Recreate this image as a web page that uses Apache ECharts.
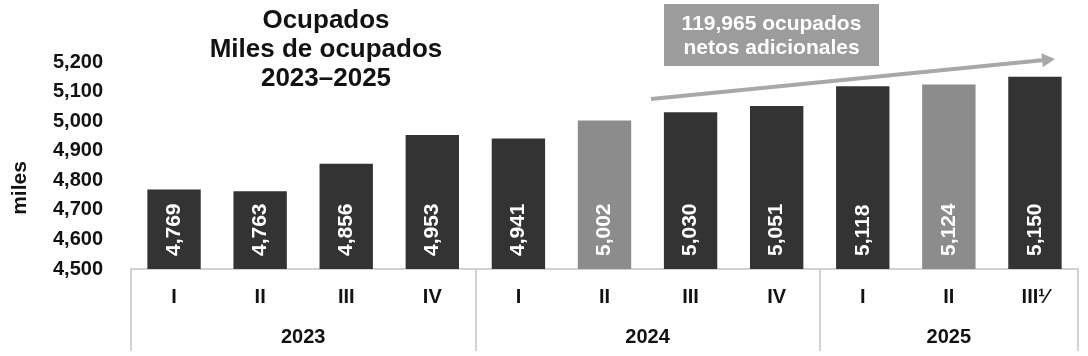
<!DOCTYPE html>
<html>
<head>
<meta charset="utf-8">
<script src="https://cdn.jsdelivr.net/npm/echarts@6/dist/echarts.min.js"></script>
<style>
html,body{margin:0;padding:0;background:#fff;}
#c{width:1088px;height:356px;}
</style>
</head>
<body>
<div id="c"></div>
<script>
// ---- data ----
var quarters = ["I","II","III","IV","I","II","III","IV","I","II","III\u00b9\u2044"];
var values = [4769,4763,4856,4953,4941,5002,5030,5051,5118,5124,5150];
var highlighted = [5, 9];
var years = ["2023","2024","2025"];
var quartersPerYear = [4,4,3];
var yMin = 4500, yMax = 5200, yStep = 100;
var titleText = "Ocupados\nMiles de ocupados\n2023\u20132025";
var noteText = "119,965 ocupados\nnetos adicionales";
var yName = "miles";

// ---- derived ----
var FONT = "'Liberation Sans', Arial, sans-serif";
var INK = "#121212";
var boundaries = [0], centers = [], acc = 0;
quartersPerYear.forEach(function(n){ centers.push(acc + n/2); acc += n; boundaries.push(acc); });
var nTotal = acc;

var barData = values.map(function(v, i){
  var hi = highlighted.indexOf(i) >= 0;
  return { value: v, itemStyle: { color: hi ? "#8c8c8c" : "#333333" } };
});

function fmt(v){ return Number(v).toLocaleString('en-US'); }

// arrow geometry (annotation)
var ax0 = 651, ay0 = 99, ax1 = 1055, ay1 = 59;
var dx = ax1-ax0, dy = ay1-ay0, L = Math.sqrt(dx*dx+dy*dy), ux = dx/L, uy = dy/L;
var hl = 13, hw = 7;
var bx = ax1 - ux*hl, by = ay1 - uy*hl;
var px = -uy, py = ux;

var chart = echarts.init(document.getElementById('c'), null, {renderer:'canvas'});
chart.setOption({
  animation: false,
  backgroundColor: '#ffffff',
  title: {
    text: titleText,
    left: 321, top: 1, textAlign: 'center',
    textStyle: { fontFamily: FONT, fontSize: 26, fontWeight: 'bold', color: INK, lineHeight: 29 }
  },
  grid: { left: 131, right: 10, top: 62, bottom: 87, containLabel: false },
  xAxis: [
    {
      type: 'category', data: quarters, position: 'bottom',
      axisLine: { show: true, lineStyle: { color: '#d2d2d2', width: 2 } },
      axisTick: { show: false },
      axisLabel: { fontFamily: FONT, fontSize: 20, fontWeight: 'bold', color: INK, margin: 18, interval: 0 }
    },
    {
      type: 'value', min: 0, max: nTotal, position: 'bottom',
      axisLine: { show: false },
      splitLine: { show: false },
      axisTick: { show: true, customValues: boundaries, length: 82, inside: false,
        lineStyle: { color: '#d2d2d2', width: 2 } },
      axisLabel: { show: true, customValues: centers, margin: 58,
        fontFamily: FONT, fontSize: 20, fontWeight: 'bold', color: INK,
        formatter: function(v){ var k = centers.indexOf(v); return k >= 0 ? years[k] : ''; } }
    }
  ],
  yAxis: {
    type: 'value', min: yMin, max: yMax, interval: yStep,
    axisLine: { show: false }, axisTick: { show: false }, splitLine: { show: false },
    axisLabel: { fontFamily: FONT, fontSize: 20, fontWeight: 'bold', color: INK, margin: 28, formatter: fmt }
  },
  series: [{
    type: 'bar', xAxisIndex: 0, data: barData, barWidth: '62%',
    label: {
      show: true, position: 'insideBottom', rotate: 90, align: 'left', verticalAlign: 'middle',
      distance: 13, fontFamily: FONT, fontSize: 21, fontWeight: 'bold', color: '#ffffff',
      formatter: function(p){ return fmt(p.value); }
    }
  }],
  graphic: [
    { type: 'text', x: 20, y: 188, rotation: Math.PI/2,
      style: { text: yName, fontFamily: FONT, fontSize: 21, fontWeight: 'bold', fill: INK,
        textAlign: 'center', textVerticalAlign: 'middle' } },
    { type: 'rect', shape: { x: 664, y: 4, width: 215, height: 62 }, style: { fill: '#9c9c9c' } },
    { type: 'text', x: 771.5, y: 36,
      style: { text: noteText, fontFamily: FONT, fontSize: 21, fontWeight: 'bold', fill: '#ffffff',
        textAlign: 'center', textVerticalAlign: 'middle', lineHeight: 24 } },
    { type: 'line', shape: { x1: ax0, y1: ay0, x2: bx, y2: by },
      style: { stroke: '#a8a8a8', lineWidth: 4 } },
    { type: 'polygon', shape: { points: [[ax1, ay1], [bx + px*hw, by + py*hw], [bx - px*hw, by - py*hw]] },
      style: { fill: '#a8a8a8' } }
  ]
});
</script>
</body>
</html>
